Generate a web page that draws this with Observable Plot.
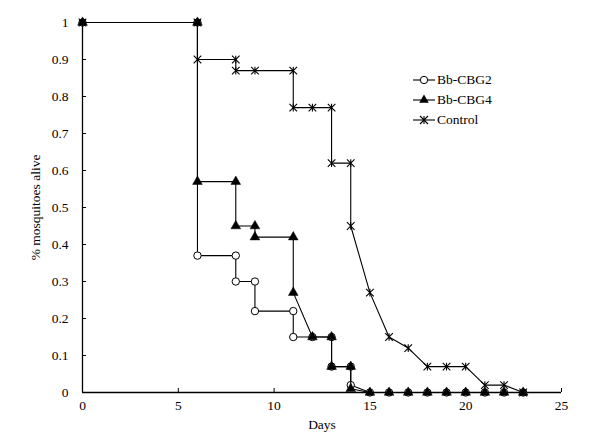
<!DOCTYPE html>
<html>
<head>
<meta charset="utf-8">
<script src="https://cdn.jsdelivr.net/npm/d3@7"></script>
<script src="https://cdn.jsdelivr.net/npm/@observablehq/plot@0.6"></script>
<style>
  html, body { margin: 0; padding: 0; background: #fff; }
  #wrap { position: relative; width: 600px; height: 448px; font-family: "Liberation Serif", "DejaVu Serif", "Times New Roman", serif; }
  #wrap svg text { font-family: "Liberation Serif", "DejaVu Serif", "Times New Roman", serif; }
  #legend { position: absolute; left: 413px; top: 70px; font-size: 13.5px; color: #000; }
  #legend .row { display: flex; align-items: center; height: 20px; }
  #legend svg { margin-right: 2px; }
</style>
</head>
<body>
<div id="wrap"><div id="legend"></div></div>
<script>
// Data
const seriesNames = ["Bb-CBG2", "Bb-CBG4", "Control"];
const cbg2Days = [0, 6, 6, 8, 8, 9, 9, 11, 11, 12, 13, 13, 14, 14, 15, 16, 17, 18, 19, 20, 21, 22, 23];
const cbg2Alive = [1, 1, 0.37, 0.37, 0.30, 0.30, 0.22, 0.22, 0.15, 0.15, 0.15, 0.07, 0.07, 0.02, 0, 0, 0, 0, 0, 0, 0, 0, 0];
const cbg4Days = [0, 6, 6, 8, 8, 9, 9, 11, 11, 12, 13, 13, 14, 14, 15, 16, 17, 18, 19, 20, 21, 22, 23];
const cbg4Alive = [1, 1, 0.57, 0.57, 0.45, 0.45, 0.42, 0.42, 0.27, 0.15, 0.15, 0.07, 0.07, 0.01, 0, 0, 0, 0, 0, 0, 0, 0, 0];
const controlDays = [0, 6, 6, 8, 8, 9, 11, 11, 12, 13, 13, 14, 14, 15, 16, 17, 18, 19, 20, 21, 22, 23];
const controlAlive = [1, 1, 0.90, 0.90, 0.87, 0.87, 0.87, 0.77, 0.77, 0.77, 0.62, 0.62, 0.45, 0.27, 0.15, 0.12, 0.07, 0.07, 0.07, 0.02, 0.02, 0];
const xTicks = [0, 5, 10, 15, 20, 25];
const yTicks = [0, 0.1, 0.2, 0.3, 0.4, 0.5, 0.6, 0.7, 0.8, 0.9, 1];

const toRows = (days, alive) => days.map((d, i) => ({day: d, alive: alive[i]}));
const cbg2 = toRows(cbg2Days, cbg2Alive);
const cbg4 = toRows(cbg4Days, cbg4Alive);
const control = toRows(controlDays, controlAlive);

// Asterisk-like symbol (X with vertical bar)
const starSymbol = {
  draw(context, size) {
    const s = Math.sqrt(size / Math.PI);
    context.moveTo(-s, -s); context.lineTo(s, s);
    context.moveTo(-s, s); context.lineTo(s, -s);
    context.moveTo(0, -s); context.lineTo(0, s);
  }
};

const serif = "'Liberation Serif', 'DejaVu Serif', 'Times New Roman', serif";
const lineStyle = {x: "day", y: "alive", stroke: "#000", strokeWidth: 1.1};

const chart = Plot.plot({
  width: 600,
  height: 448,
  marginLeft: 82,
  marginRight: 39,
  marginTop: 22,
  marginBottom: 56,
  style: {fontFamily: serif, fontSize: "13px", background: "#fff", color: "#000"},
  x: {domain: [0, 25]},
  y: {domain: [0, 1]},
  marks: [
    Plot.ruleX([0], {stroke: "#000", strokeWidth: 1.3}),
    Plot.ruleY([0], {stroke: "#000", strokeWidth: 1.3}),
    Plot.axisX({ticks: xTicks, tickSize: -4, tickPadding: 12, tickFormat: d => String(d),
      label: "Days", labelAnchor: "center", labelArrow: "none", labelOffset: 36, fontSize: 13.5}),
    Plot.axisY({ticks: yTicks, tickSize: -4, tickPadding: 18, tickFormat: d => String(+d.toFixed(1)),
      label: "% mosquitoes alive", labelAnchor: "center", labelArrow: "none", labelOffset: 52, fontSize: 13.5}),
    Plot.line(cbg2, lineStyle),
    Plot.dot(cbg2, {x: "day", y: "alive", symbol: "circle", r: 3.7, fill: "#fff", stroke: "#000", strokeWidth: 1}),
    Plot.line(cbg4, lineStyle),
    Plot.dot(cbg4, {x: "day", y: "alive", symbol: "triangle", r: 3.6, fill: "#000", stroke: "#000", strokeWidth: 0.5}),
    Plot.line(control, lineStyle),
    Plot.dot(control, {x: "day", y: "alive", symbol: starSymbol, r: 3.8, fill: "none", stroke: "#000", strokeWidth: 1.1})
  ]
});
document.getElementById("wrap").prepend(chart);

// Legend
const legend = document.getElementById("legend");
const legendSymbols = [
  '<circle cx="11" cy="7" r="3.7" fill="#fff" stroke="#000" stroke-width="1"/>',
  '<path d="' + d3.symbol(d3.symbolTriangle, 3.6 * 3.6 * Math.PI)() + '" transform="translate(11,7)" fill="#000"/>',
  '<path d="M7,3L15,11M7,11L15,3M11,3L11,11" stroke="#000" stroke-width="1.1" fill="none"/>'
];
seriesNames.forEach((name, i) => {
  const row = document.createElement("div");
  row.className = "row";
  row.innerHTML = '<svg width="22" height="14"><line x1="0" y1="7" x2="22" y2="7" stroke="#000" stroke-width="1.1"/>' +
    legendSymbols[i] + '</svg><span>' + name + '</span>';
  legend.appendChild(row);
});
</script>
</body>
</html>
